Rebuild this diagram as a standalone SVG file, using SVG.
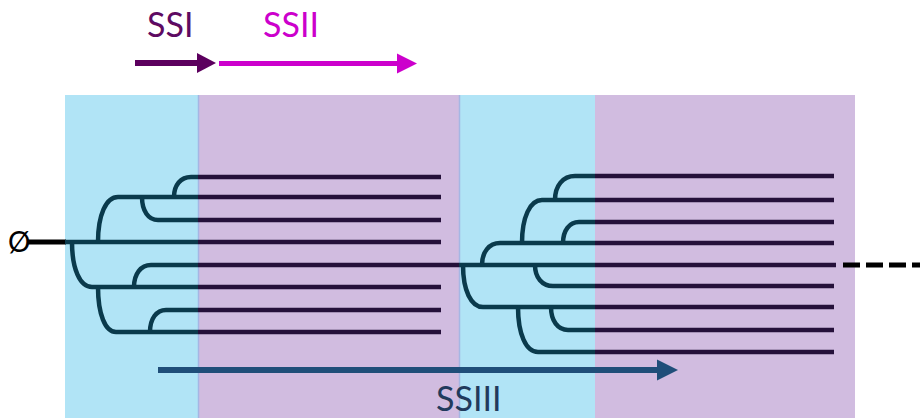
<svg xmlns="http://www.w3.org/2000/svg" xmlns:xlink="http://www.w3.org/1999/xlink" width="920" height="418" viewBox="0 0 920 418">
  <style>
    .label { font-family: Lato, "Open Sans", "Liberation Sans", sans-serif; }
    .tree { fill: none; stroke-width: 4.5; stroke-linecap: butt; stroke-linejoin: round; }
    .blue { fill: #b1e4f6; }
    .purple { fill: #d1bce0; }
  </style>
  <defs>
    <clipPath id="clipBlue">
      <rect x="0" y="0" width="198" height="418"/>
      <rect x="459" y="0" width="136" height="418"/>
    </clipPath>
    <clipPath id="clipPurple">
      <rect x="198" y="0" width="261" height="418"/>
      <rect x="595" y="0" width="325" height="418"/>
    </clipPath>
    <!-- branching lines; stroke colour is set per region by the <use> copies -->
    <g id="branches">
      <!-- first tree -->
      <path d="M65,242 H441"/>
      <path d="M72,242 C72,269 80,287 92,287 H441"/>
      <path d="M98,242 C98,215 106,197 118,197 H441"/>
      <path d="M142,197 C142,210.8 148.4,220 158,220 H441"/>
      <path d="M174,197 C174,185 180.8,177 191,177 H441"/>
      <path d="M134,287 C134,273.8 140.8,265 151,265 H836"/>
      <path d="M98,287 C98,314 105.2,332 116,332 H441"/>
      <path d="M150,332 C150,318.8 156.4,310 166,310 H441"/>
      <!-- second tree -->
      <path d="M463,265 C463,290.2 471,307 483,307 H834"/>
      <path d="M482,265 C482,251.8 489.2,243 500,243 H834"/>
      <path d="M522,243 C522,217.2 530,200 542,200 H834"/>
      <path d="M555,200 C555,185.6 563,176 575,176 H834"/>
      <path d="M563,243 C563,230.4 569.4,222 579,222 H834"/>
      <path d="M535,265 C535,277.6 542.2,286 553,286 H834"/>
      <path d="M518,307 C518,334 526,352 538,352 H834"/>
      <path d="M551,307 C551,320.8 557.8,330 568,330 H834"/>
    </g>
  </defs>

  <!-- coloured bands -->
  <g id="bands">
    <rect class="blue" x="65" y="95" width="133" height="323"/>
    <rect class="purple" x="198" y="95" width="261" height="323"/>
    <rect class="blue" x="459" y="95" width="136" height="323"/>
    <rect class="purple" x="595" y="95" width="260" height="323"/>
    <line x1="198.5" y1="95" x2="198.5" y2="418" stroke="#a5b6e3" stroke-width="1.5"/>
    <line x1="459.5" y1="95" x2="459.5" y2="418" stroke="#a5b6e3" stroke-width="1.5"/>
  </g>

  <!-- top arrows -->
  <g id="ssi">
    <text class="label" x="147" y="37" font-size="34" fill="#5e0a62">SSI</text>
    <line x1="135" y1="63" x2="200" y2="63" stroke="#5c005e" stroke-width="6"/>
    <polygon points="197,53 216,63 197,73" fill="#5c005e"/>
  </g>
  <g id="ssii">
    <text class="label" x="263" y="37" font-size="34" fill="#cc00cc">SSII</text>
    <line x1="219" y1="63.5" x2="400" y2="63.5" stroke="#cc00cc" stroke-width="5"/>
    <polygon points="397,53.5 417,63.5 397,73.5" fill="#cc00cc"/>
  </g>

  <!-- input symbol and lead line -->
  <g id="input">
    <text class="label" x="8" y="252" font-size="28" fill="#000">Ø</text>
    <line x1="27" y1="242" x2="66" y2="242" stroke="#000" stroke-width="5"/>
  </g>

  <!-- trees -->
  <g id="connectors" class="tree">
    <use xlink:href="#branches" stroke="#0a3a4c" clip-path="url(#clipBlue)"/>
    <use xlink:href="#branches" stroke="#25103a" clip-path="url(#clipPurple)"/>
    <line x1="843" y1="265" x2="920" y2="265" stroke="#000" stroke-width="5" stroke-dasharray="17 6"/>
  </g>

  <!-- bottom arrow -->
  <g id="ssiii">
    <line x1="158" y1="370" x2="660" y2="370" stroke="#1f4e79" stroke-width="6"/>
    <polygon points="657,359.5 678,370 657,380.5" fill="#1f4e79"/>
    <text class="label" x="436" y="411" font-size="34" fill="#213a5c">SSIII</text>
  </g>
</svg>
